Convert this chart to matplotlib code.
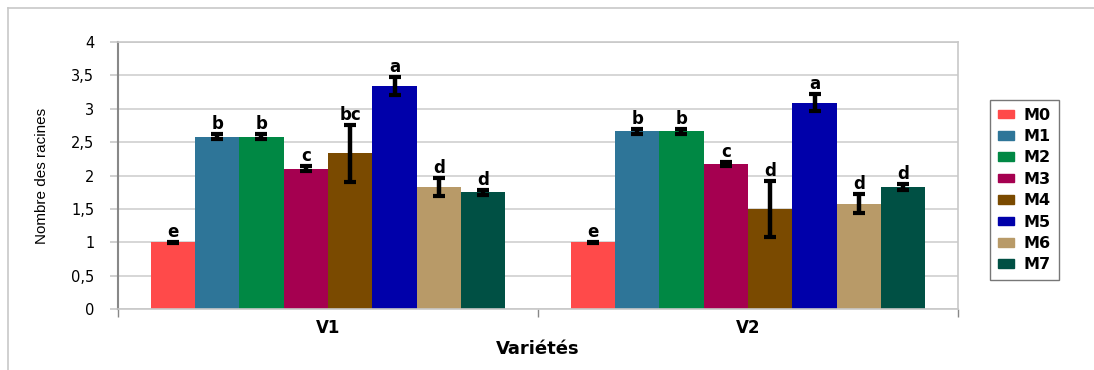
import matplotlib.pyplot as plt
import matplotlib.patches as mpatches
from matplotlib.lines import Line2D
import numpy as np

plt.rcParams['font.family'] = ['DejaVu Sans']

# Moyennes du nombre de racines par variété et par milieu
varietes = ['V1', 'V2']
milieux = ['M0', 'M1', 'M2', 'M3', 'M4', 'M5', 'M6', 'M7']
moy_v1 = [1.00, 2.58, 2.58, 2.10, 2.33, 3.34, 1.83, 1.75]
moy_v2 = [1.00, 2.66, 2.66, 2.17, 1.50, 3.09, 1.58, 1.83]
err_v1 = [0.01, 0.04, 0.04, 0.04, 0.42, 0.13, 0.13, 0.04]
err_v2 = [0.01, 0.04, 0.04, 0.03, 0.42, 0.13, 0.14, 0.04]
lettres_v1 = ['e', 'b', 'b', 'c', 'bc', 'a', 'd', 'd']
lettres_v2 = ['e', 'b', 'b', 'c', 'd', 'a', 'd', 'd']

couleurs = ['#FF4A4A', '#2E7598', '#008844', '#A50050',
            '#7A4A00', '#0000AA', '#B89A68', '#005044']

moyennes = np.array([moy_v1, moy_v2])
erreurs = np.array([err_v1, err_v2])
lettres = [lettres_v1, lettres_v2]

fig = plt.figure(figsize=(10.94, 3.70), dpi=100)
ax = fig.add_axes([118 / 1094, 1 - 309 / 370, 840 / 1094, 267 / 370])

# cadre extérieur (haut et gauche)
fig.add_artist(Line2D([8 / 1094, 1.0], [1 - 8 / 370, 1 - 8 / 370],
                      color='#C8C8C8', lw=1.2, transform=fig.transFigure))
fig.add_artist(Line2D([8 / 1094, 8 / 1094], [0, 1 - 8 / 370],
                      color='#C8C8C8', lw=1.2, transform=fig.transFigure))

larg = 0.845 / 8
x = np.arange(len(varietes))
for j, m in enumerate(milieux):
    pos = x - 0.845 / 2 + larg * (j + 0.5)
    ax.bar(pos, moyennes[:, j], width=larg, color=couleurs[j], label=m,
           zorder=2)
    ax.errorbar(pos, moyennes[:, j], yerr=erreurs[:, j], fmt='none',
                ecolor='black', elinewidth=3.2, capsize=4, capthick=3,
                zorder=3)
    for i in range(len(varietes)):
        ax.text(pos[i], moyennes[i, j] + erreurs[i, j] + 0.015, lettres[i][j],
                ha='center', va='bottom', fontsize=12, fontweight='bold',
                zorder=4)

ax.set_xlim(-0.5, 1.5)
ax.set_ylim(0, 4)
ax.set_yticks(np.arange(0, 4.01, 0.5))
ax.set_yticklabels([('%g' % v).replace('.', ',') for v in np.arange(0, 4.01, 0.5)],
                   fontsize=10.5)
ax.yaxis.grid(True, color='#D0D0D0', lw=1.2, zorder=0)
ax.set_axisbelow(True)

ax.set_xticks(x)
ax.set_xticklabels(varietes, fontsize=12, fontweight='bold')
ax.set_xticks([-0.5, 0.5, 1.5], minor=True)
ax.tick_params(axis='x', which='major', length=0, pad=7)
ax.tick_params(axis='x', which='minor', length=6, color='#888888', width=1)
ax.tick_params(axis='y', length=6, color='#C8C8C8', width=1.2, pad=11)

for s in ['top', 'right']:
    ax.spines[s].set_color('#C8C8C8')
    ax.spines[s].set_linewidth(1.2)
ax.spines['left'].set_color('#888888')
ax.spines['left'].set_linewidth(1.5)
ax.spines['bottom'].set_color('#C8C8C8')
ax.spines['bottom'].set_linewidth(1.2)

ax.set_xlabel('Variétés', fontsize=13, fontweight='bold', labelpad=2)
ax.set_ylabel('Nombre des racines', fontsize=11,
              family=['Liberation Sans Narrow', 'Liberation Sans', 'DejaVu Sans'],
              labelpad=16)

handles = [mpatches.Patch(color=c, label=m) for c, m in zip(couleurs, milieux)]
leg = ax.legend(handles=handles, loc='center left',
                bbox_to_anchor=(990 / 1094, 1 - 190 / 370),
                bbox_transform=fig.transFigure, frameon=True, fancybox=False,
                prop={'weight': 'bold', 'size': 11.5}, handlelength=1.0,
                handleheight=0.45, handletextpad=0.6, labelspacing=0.4,
                borderpad=0.5, borderaxespad=0)
leg.get_frame().set_edgecolor('#555555')
leg.get_frame().set_linewidth(1.0)

fig.savefig('out.png', dpi=100)
